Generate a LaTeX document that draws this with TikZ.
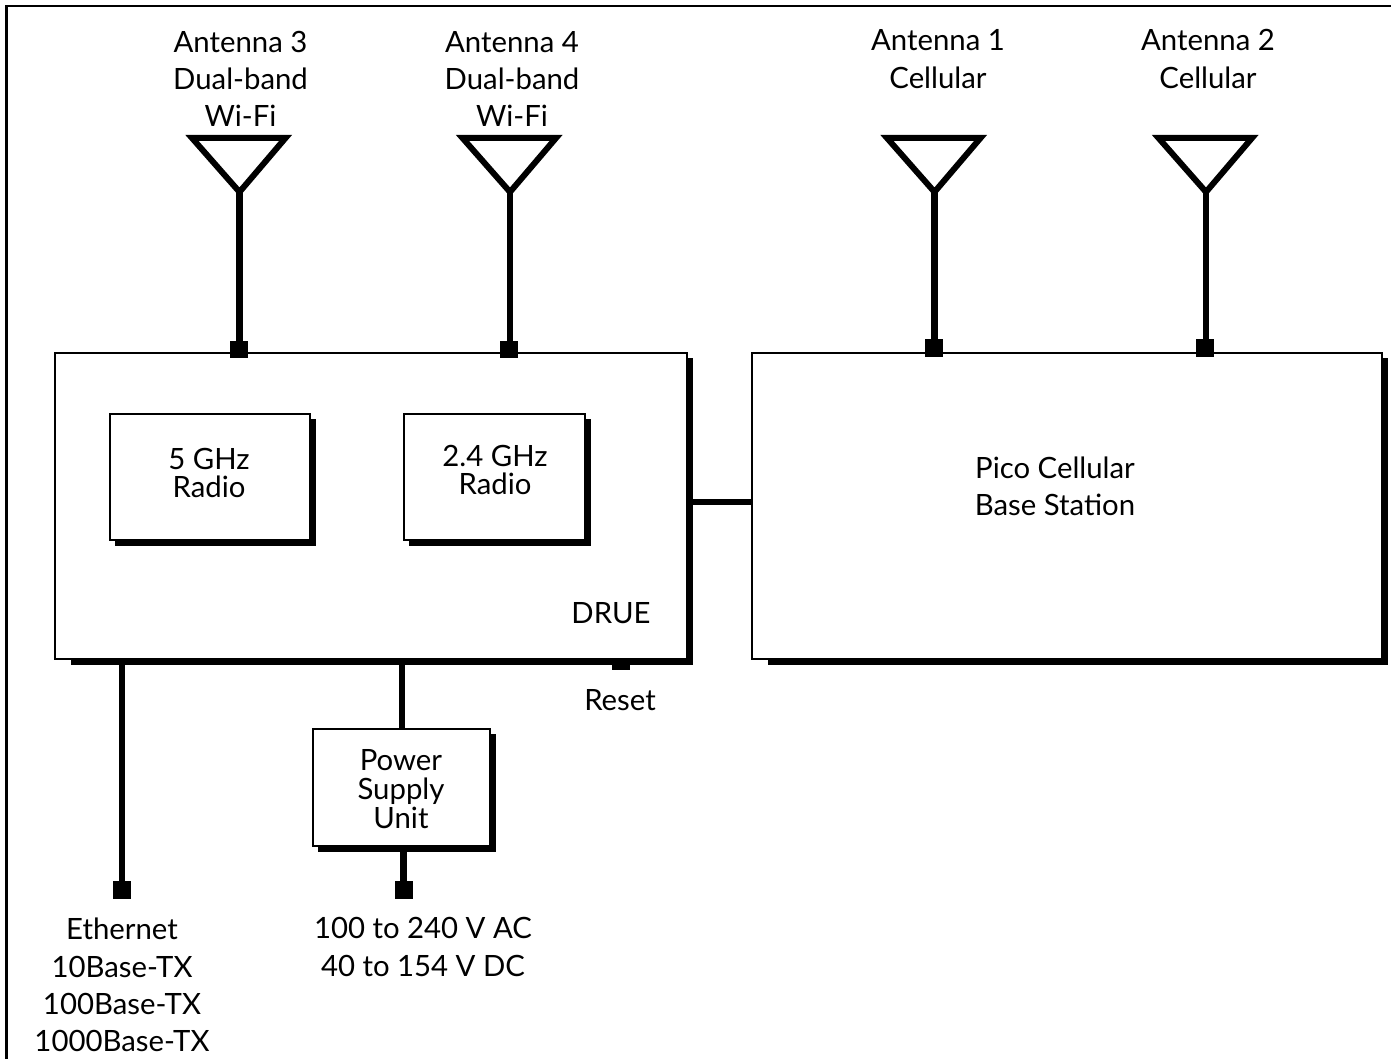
\documentclass[tikz,border=0pt]{standalone}
\usepackage{fontspec}
\setmainfont{Lato}
\usetikzlibrary{calc,positioning}
\definecolor{inkblack}{HTML}{000000}
\tikzset{
  x=0.75pt, y=-0.75pt,
  frameline/.style={inkblack, line width=1.9pt},
  boxnode/.style={draw=inkblack, fill=white, rectangle, line width=1.5pt, inner sep=0pt, outer sep=0pt},
  shadowline/.style={inkblack, line width=4.9pt},
  wireline/.style={inkblack, line width=5pt},
  antennaline/.style={inkblack, line width=4.5pt, line join=miter},
  padnode/.style={fill=inkblack, rectangle, inner sep=0pt, outer sep=0pt, minimum width=13.5pt, minimum height=13pt},
  looselabel/.style={align=center, inner sep=0pt, font=\fontsize{22}{28}\selectfont},
  tightlabel/.style={align=center, inner sep=0pt, font=\fontsize{22}{21.5}\selectfont}
}
\begin{document}
\begin{tikzpicture}
  \useasboundingbox (0,0) rectangle (1391,1059);
  % outer frame
  \draw[frameline] (6.5,1059)--(6.5,6)--(1391,6);

  % boxes
  \node[boxnode, minimum width=474pt, minimum height=229.5pt] (drue) at (371,505.5) {};
  \node[boxnode, minimum width=472.5pt, minimum height=229.5pt] (pico) at (1067,505.5) {};
  \node[boxnode, minimum width=150pt, minimum height=94.5pt] (fiveghz) at (210,477) {};
  \node[boxnode, minimum width=135.75pt, minimum height=94.5pt] (twoghz) at (494.5,477) {};
  \node[boxnode, minimum width=132.75pt, minimum height=87.75pt] (psu) at (401.5,787.5) {};

  % box shadows
  \foreach \b/\s in {drue/16,pico/16,fiveghz/5,twoghz/5,psu/5}{
    \draw[shadowline] ($(\b.south west)+(\s,3)$) -| ($(\b.north east)+(3,5)$);
  }

  % pads
  \node[padnode] (padthree) at (239,349.5) {};
  \node[padnode] (padfour) at (509,349.5) {};
  \node[padnode] (padone) at (934,348) {};
  \node[padnode] (padtwo) at (1205,348) {};
  \node[padnode] (padeth) at (122,890) {};
  \node[padnode] (padpower) at (403.5,890) {};
  \node[padnode, minimum height=6pt] (padreset) at (621,666) {};

  % antennas
  \foreach \n/\x/\p in {three/239.5/padthree,four/510/padfour,one/934.5/padone,two/1206/padtwo}{
    \coordinate (tip\n) at (\x,192);
    \draw[antennaline] (\x-47.5,138)--(\x+46,138)--(tip\n)--cycle;
    \draw[wireline] (tip\n)--(tip\n|-\p.center);
  }

  % wires
  \coordinate (linkstart) at ($(drue.east)+(3,-3.5)$);
  \draw[wireline] (linkstart)--(linkstart-|pico.west);
  \draw[wireline] (122,664)--(padeth.center);
  \draw[wireline] (402,664)--(402,0|-psu.north);
  \draw[wireline] (padpower.center)--(padpower.center|-psu.south);

  % labels
  \node[looselabel] (labthree) at (240.5,79) {Antenna 3\\Dual-band\\Wi-Fi};
  \node[looselabel] (labfour) at (512,79) {Antenna 4\\Dual-band\\Wi-Fi};
  \node[looselabel] (labone) at (938,59) {Antenna 1\\Cellular};
  \node[looselabel] (labtwo) at (1208,59) {Antenna 2\\Cellular};
  \node[tightlabel] (labfive) at (209,473) {5 GHz\\Radio};
  \node[tightlabel] (labtwofour) at (495,470) {2.4 GHz\\Radio};
  \node[looselabel] (labdrue) at (611,613) {DRUE};
  \node[looselabel] (labpico) at (1055,486) {Pico Cellular\\Base Station};
  \node[looselabel] (labreset) at (620,700) {Reset};
  \node[tightlabel] (labpsu) at (401,789) {Power\\Supply\\Unit};
  \node[looselabel] (labeth) at (122,985) {Ethernet\\10Base-TX\\100Base-TX\\1000Base-TX};
  \node[looselabel] (labac) at (423,947) {100 to 240 V AC\\40 to 154 V DC};
\end{tikzpicture}
\end{document}
